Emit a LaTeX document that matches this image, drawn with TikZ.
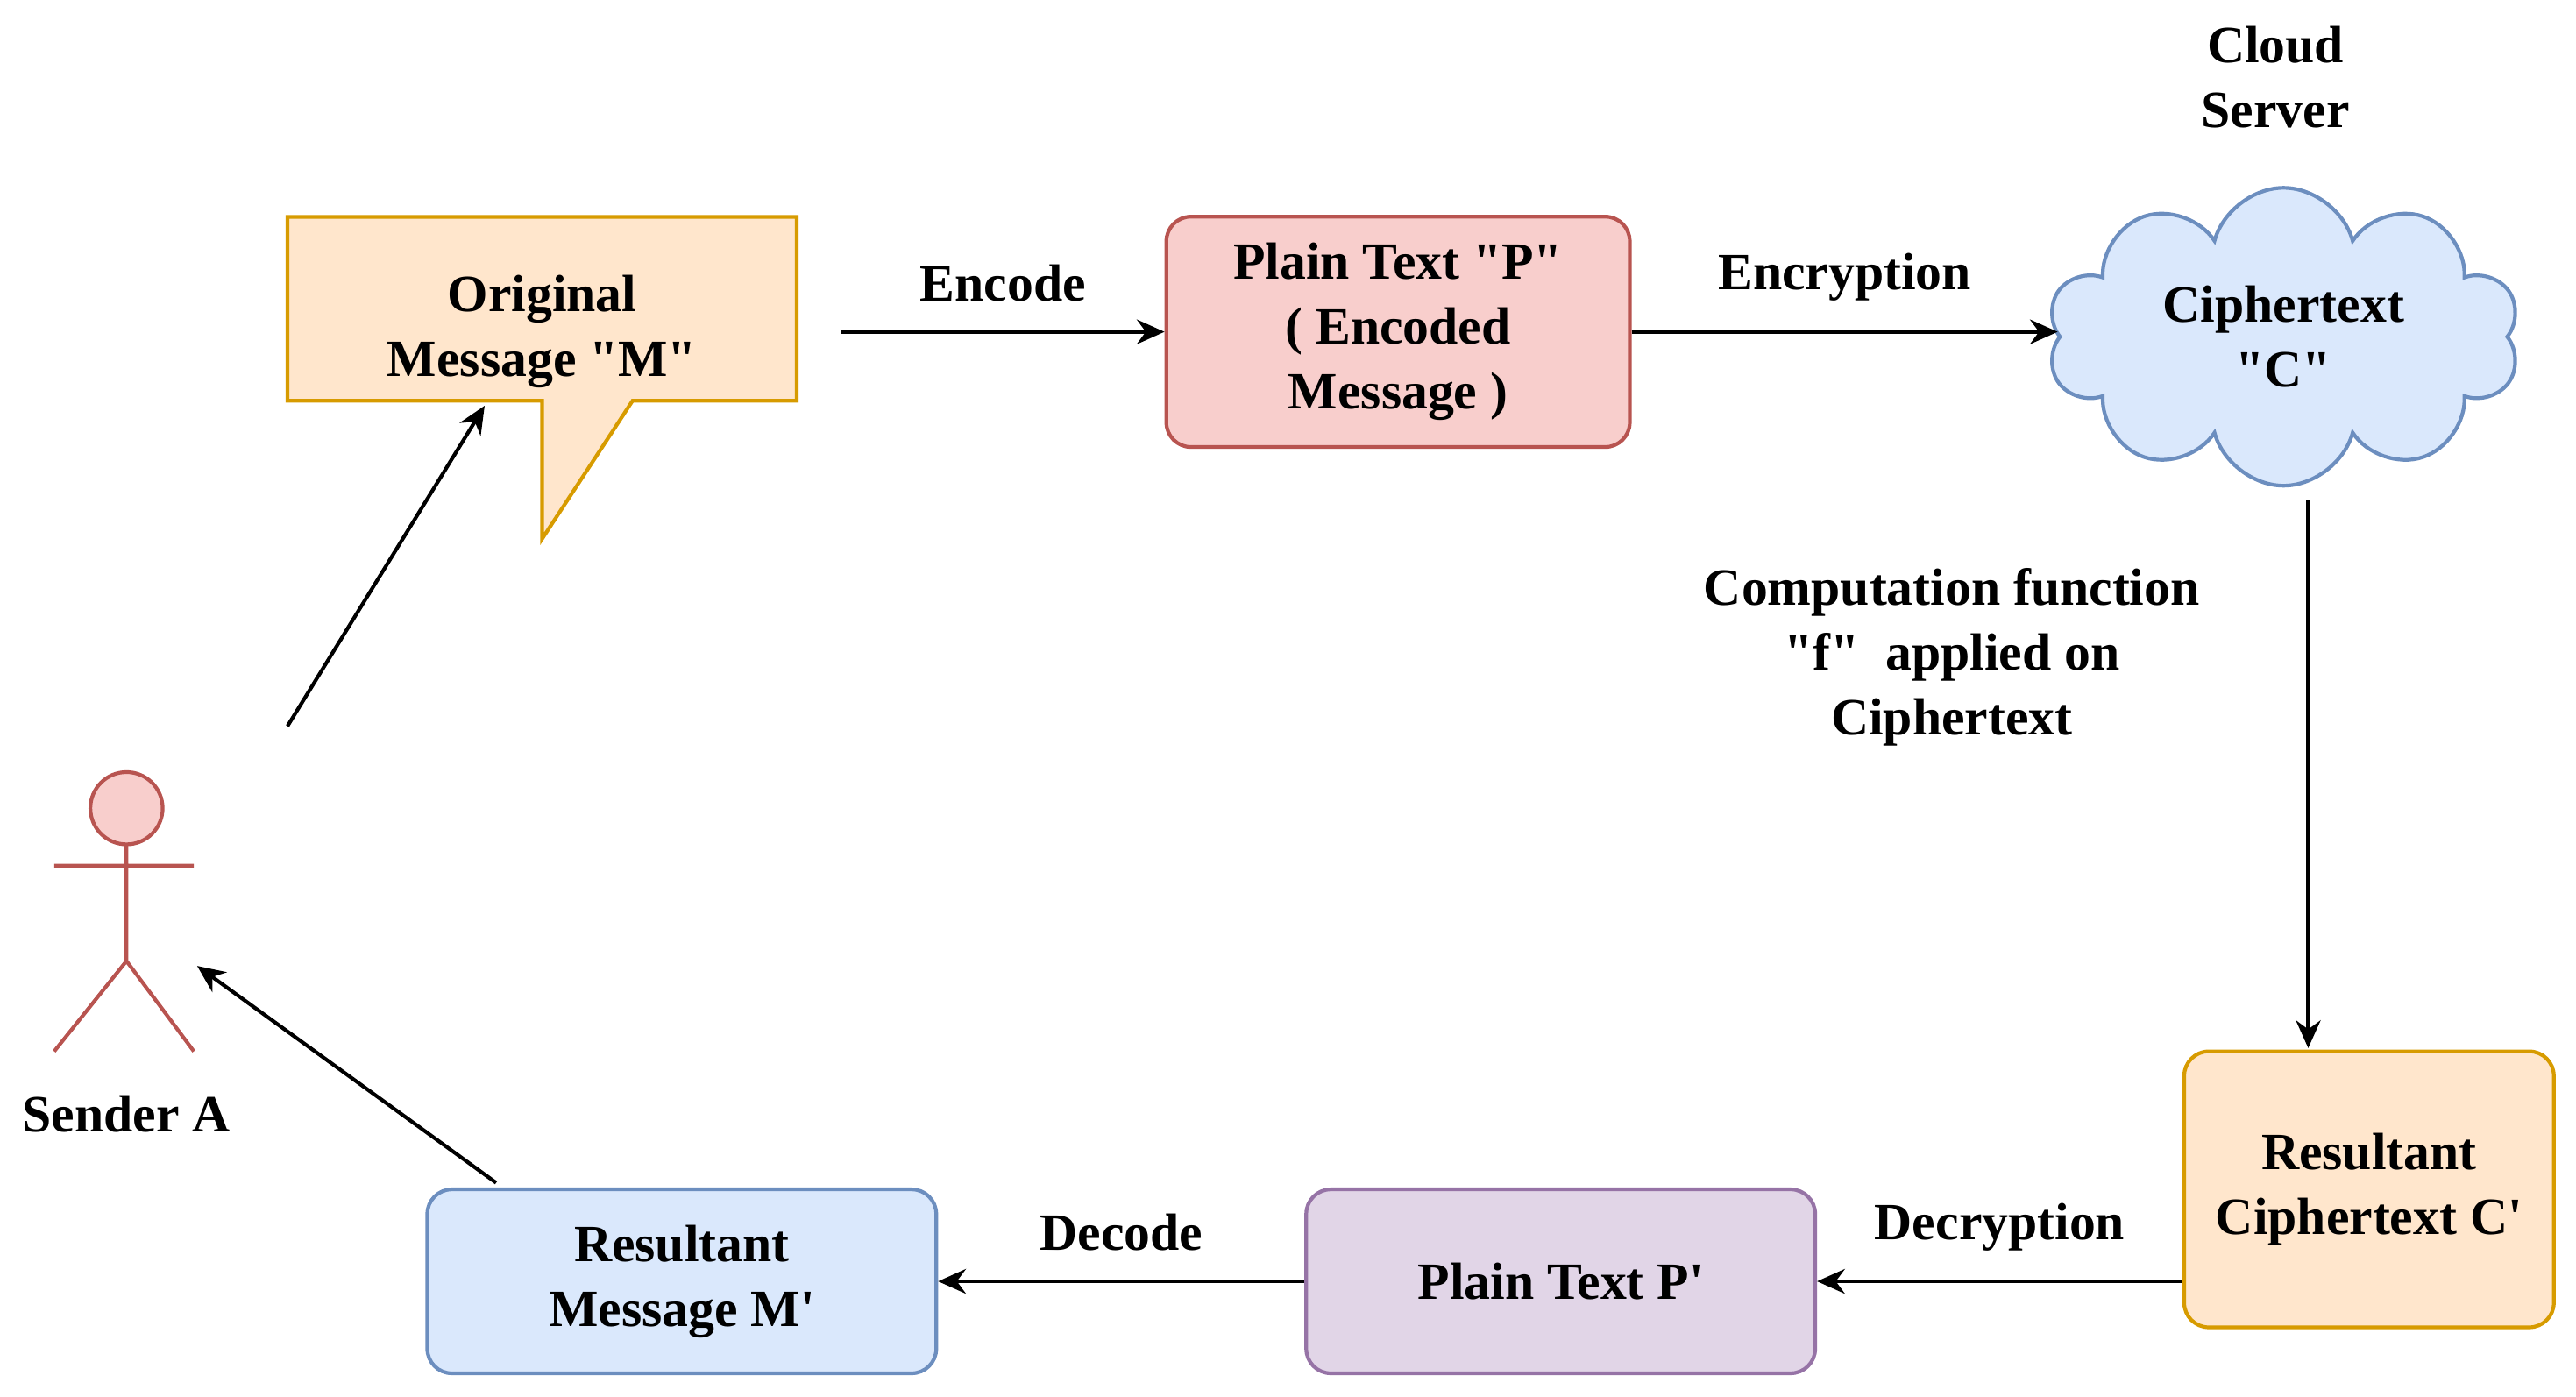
\documentclass[tikz,border=0pt]{standalone}
\usepackage{fontspec}
\setmainfont{Liberation Serif}
\usetikzlibrary{shapes.symbols,arrows.meta}
\definecolor{orfill}{HTML}{FFE6CC}\definecolor{ordraw}{HTML}{D79B00}
\definecolor{rdfill}{HTML}{F8CECC}\definecolor{rddraw}{HTML}{B85450}
\definecolor{blfill}{HTML}{DAE8FC}\definecolor{bldraw}{HTML}{6C8EBF}
\definecolor{pufill}{HTML}{E1D5E7}\definecolor{pudraw}{HTML}{9673A6}
\newcommand{\dq}{\textquotedbl}
\newcommand{\sq}{\textquotesingle}
\begin{document}
\begin{tikzpicture}[x=0.01875cm,y=-0.01875cm,
  every node/.style={font=\bfseries\fontsize{17}{21}\selectfont,align=center},
  box/.style={draw,line width=1.2pt,rounded corners=8pt},
  flow/.style={-{Stealth[length=9pt,width=8pt]},line width=1.2pt}]
\useasboundingbox (0,0) rectangle (1568,850);
% callout
\draw[fill=orfill,draw=ordraw,line width=1.2pt] (175,132) -- (485,132) -- (485,244) -- (385,244)
  -- (330,328) -- (330,244) -- (175,244) -- cycle;
\node (M) at (330,202) {Original\\Message \dq M\dq};
\node[box,fill=rdfill,draw=rddraw,minimum width=5.29cm,minimum height=2.63cm] (P) at (851,202) {Plain Text \dq P\dq\\( Encoded\\Message )};
\node[cloud,draw=bldraw,fill=blfill,line width=1.2pt,cloud puffs=10,aspect=1.6,minimum width=5.4cm,minimum height=3.4cm,inner sep=0pt] (C) at (1390,205) {Ciphertext\\\dq C\dq};
\node (cs) at (1385,47) {Cloud\\Server};
\node[box,fill=orfill,draw=ordraw,minimum width=4.22cm,minimum height=3.15cm] (Cp) at (1442,724) {Resultant\\Ciphertext C\sq};
\node[box,fill=pufill,draw=pudraw,minimum width=5.81cm,minimum height=2.1cm] (Pp) at (950,780) {Plain Text P\sq};
\node[box,fill=blfill,draw=bldraw,minimum width=5.81cm,minimum height=2.1cm] (Mp) at (415,780) {Resultant\\Message M\sq};
% sender
\begin{scope}[draw=rddraw,line width=1.2pt]
\draw[fill=rdfill] (77,492) circle (22);
\draw (77,514) -- (77,585) (33,527) -- (118,527) (33,640) -- (77,585) -- (118,640);
\end{scope}
\node (A) at (77,678) {Sender A};
% connectors
\coordinate (e1) at (512,202);
\coordinate (c1) at (1405,304);
\coordinate (c2) at (1405,638);
\coordinate (s1) at (175,442);
\coordinate (s2) at (295,247);
\coordinate (s3) at (120,588);
\coordinate (m1) at (302,720);
\draw[flow] (e1) -- (P.west) node[midway,above=6pt] {Encode};
\draw[flow] (P.east) -- (C.west |- P.east) node[midway,above=6pt] {Encryption};
\draw[flow] (c1) -- (c2);
\node (f) at (1188,400) {Computation function\\\dq f\dq\ \ applied on\\Ciphertext};
\draw[flow] (Cp.west |- Pp) -- (Pp.east) node[midway,above=6pt] {Decryption};
\draw[flow] (Pp.west) -- (Mp.east) node[midway,above=6pt] {Decode};
\draw[flow] (m1) -- (s3);
\draw[flow] (s1) -- (s2);
\end{tikzpicture}
\end{document}
